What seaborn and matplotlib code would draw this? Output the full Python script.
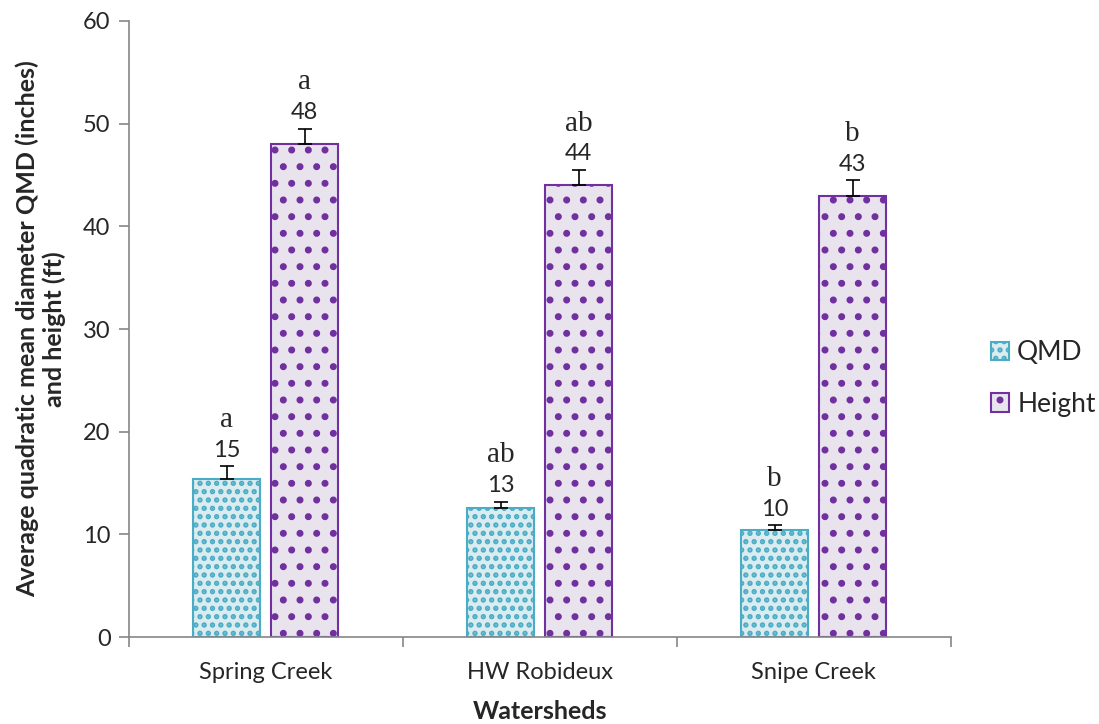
import pandas as pd
import seaborn as sns
import matplotlib.pyplot as plt

# data
watersheds = ['Spring Creek', 'HW Robideux', 'Snipe Creek']
qmd = [15.4, 12.6, 10.4]
height = [48.0, 44.0, 43.0]
qmd_err = [1.25, 0.6, 0.5]
height_err = [1.5, 1.5, 1.5]
qmd_labels = ['15', '13', '10']
height_labels = ['48', '44', '43']
qmd_letters = ['a', 'ab', 'b']
height_letters = ['a', 'ab', 'b']

df = pd.DataFrame({
    'Watershed': watersheds * 2,
    'Variable': ['QMD'] * 3 + ['Height'] * 3,
    'Value': qmd + height,
})

sns.set_style('white')
plt.rcParams['font.family'] = ['Lato', 'DejaVu Sans']
plt.rcParams['hatch.linewidth'] = 2.6

fig = plt.figure(figsize=(10.99, 7.24), dpi=100)
ax = fig.add_axes([0.117, 0.12, 0.748, 0.851])

sns.barplot(data=df, x='Watershed', y='Value', hue='Variable',
            palette={'QMD': '#d6eef4', 'Height': '#e8e2ee'},
            width=0.57, gap=0.14, errorbar=None, ax=ax)

styles = {'QMD': ('#4bacc6', '..'), 'Height': ('#7030a0', '.')}
series = [
    ('QMD', qmd, qmd_err, qmd_labels, qmd_letters),
    ('Height', height, height_err, height_labels, height_letters),
]
for cont, (name, vals, errs, labs, lets) in zip(ax.containers, series):
    edge, hatch = styles[name]
    xs = []
    for bar in cont:
        bar.set_edgecolor(edge)
        bar.set_linewidth(1.5)
        bar.set_hatch(hatch)
        xs.append(bar.get_x() + bar.get_width() / 2)
    ax.errorbar(xs, vals, yerr=[[0] * len(errs), errs], fmt='none',
                ecolor='black', elinewidth=1.2, capsize=5, capthick=1.2)
    for x, v, e, lab, let in zip(xs, vals, errs, labs, lets):
        ax.annotate(lab, (x, v + e), xytext=(0, 4), textcoords='offset points',
                    ha='center', va='bottom', fontsize=17)
        ax.annotate(let, (x, v + e), xytext=(0, 24), textcoords='offset points',
                    ha='center', va='bottom', fontsize=21,
                    family='Liberation Serif')

ax.set_ylim(0, 60)
ax.set_xlim(-0.5, 2.5)
ax.set_yticks(range(0, 61, 10))
ax.set_xticks([-0.5, 0.5, 1.5, 2.5], minor=True)
ax.tick_params(axis='x', which='major', length=0, labelsize=17, pad=18)
ax.tick_params(axis='x', which='minor', length=7, color='#868686', width=1.2,
               direction='out', bottom=True)
ax.tick_params(axis='y', length=7, color='#868686', width=1.2,
               direction='out', left=True, labelsize=17, pad=6)
for s in ['top', 'right']:
    ax.spines[s].set_visible(False)
for s in ['left', 'bottom']:
    ax.spines[s].set_color('#868686')
    ax.spines[s].set_linewidth(1.2)

ax.set_xlabel('Watersheds', fontsize=18, fontweight='bold', labelpad=12)
ax.set_ylabel('Average quadratic mean diameter QMD (inches)\nand height (ft)',
              fontsize=18, fontweight='bold', labelpad=12)

leg = ax.legend(title=None, frameon=False, loc='center left',
                bbox_to_anchor=(1.02, 0.42), fontsize=19, handlelength=0.7,
                handleheight=0.7, handletextpad=0.3, labelspacing=1.0)
for patch, name in zip(leg.get_patches(), ['QMD', 'Height']):
    edge, hatch = styles[name]
    patch.set_edgecolor(edge)
    patch.set_linewidth(1.5)
    patch.set_hatch(hatch)

plt.savefig('out.png', dpi=100)
